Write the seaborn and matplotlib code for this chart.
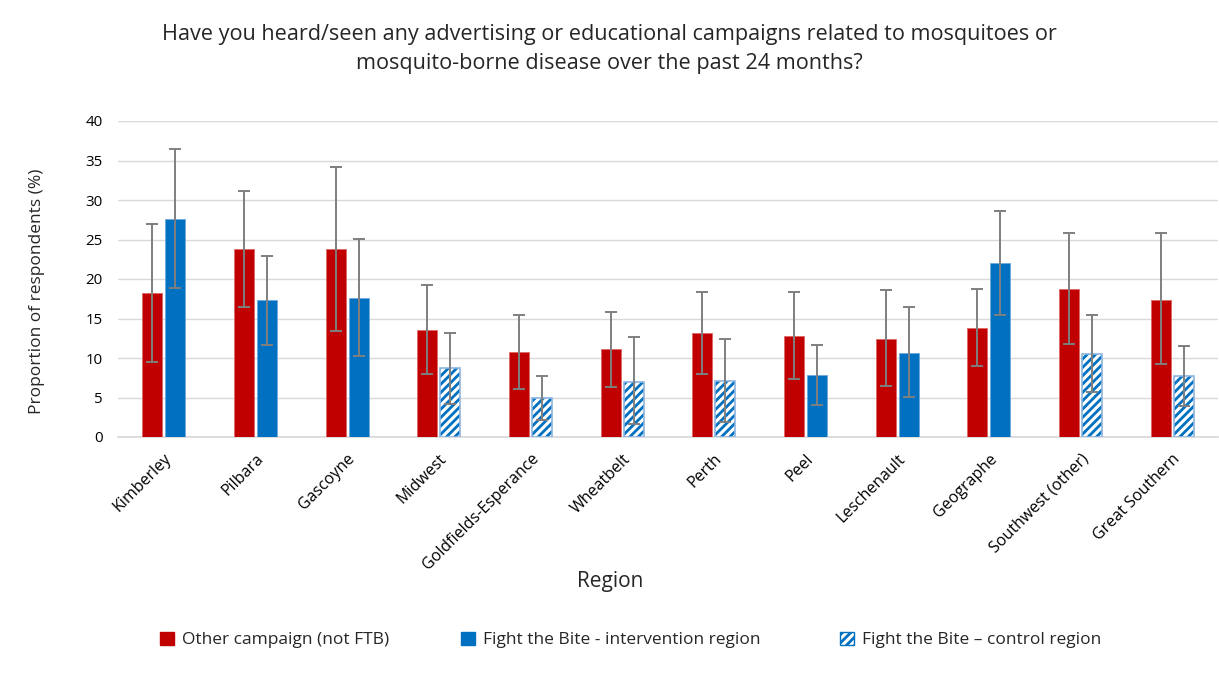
import numpy as np
import pandas as pd
import matplotlib
matplotlib.use("Agg")
import matplotlib.pyplot as plt
import seaborn as sns
from matplotlib.patches import Patch

regions = ["Kimberley", "Pilbara", "Gascoyne", "Midwest", "Goldfields-Esperance",
           "Wheatbelt", "Perth", "Peel", "Leschenault", "Geographe",
           "Southwest (other)", "Great Southern"]
other_vals = [18.2, 23.75, 23.75, 13.5, 10.8, 11.1, 13.2, 12.8, 12.45, 13.8, 18.7, 17.4]
other_lo = [9.5, 16.5, 13.4, 8.0, 6.1, 6.3, 8.0, 7.4, 6.5, 9.0, 11.8, 9.2]
other_hi = [26.9, 31.2, 34.2, 19.2, 15.5, 15.8, 18.4, 18.3, 18.6, 18.7, 25.8, 25.8]
ftb_vals = [27.6, 17.3, 17.55, 8.7, 4.9, 7.0, 7.1, 7.8, 10.6, 22.0, 10.5, 7.7]
ftb_lo = [18.8, 11.7, 10.2, 4.2, 2.15, 1.6, 1.9, 4.0, 5.1, 15.5, 5.7, 3.9]
ftb_hi = [36.5, 22.9, 25.1, 13.2, 7.7, 12.6, 12.4, 11.7, 16.4, 28.6, 15.4, 11.5]
ftb_control = [False, False, False, True, True, True, True, False, False, False, True, True]

series_names = ["Other campaign (not FTB)", "Fight the Bite - intervention region",
                "Fight the Bite \u2013 control region"]

RED = "#C00000"
BLUE = "#0070C0"

df = pd.DataFrame({
    "Region": regions * 2,
    "Value": other_vals + ftb_vals,
    "Series": ["Other"] * len(regions) + ["FTB"] * len(regions),
})

sns.set_theme(style="white")
plt.rcParams['font.family'] = ['Open Sans', 'DejaVu Sans']
plt.rcParams['hatch.linewidth'] = 2.0

fig = plt.figure(figsize=(12.19, 6.73), dpi=100)
ax = fig.add_axes([118 / 1219, 1 - 437 / 673, 1100 / 1219, 316 / 673])

sns.barplot(data=df, x="Region", y="Value", hue="Series", order=regions,
            hue_order=["Other", "FTB"], palette=[RED, BLUE], width=0.5, gap=0.13,
            saturation=1, errorbar=None, legend=False, ax=ax, zorder=3)

bars = ax.patches[:2 * len(regions)]
other_bars = bars[:len(regions)]
ftb_bars = bars[len(regions):]

for b in other_bars:
    b.set_edgecolor("#E06666")
    b.set_linewidth(0.6)
for b, ctrl in zip(ftb_bars, ftb_control):
    if ctrl:
        b.set_facecolor("white")
        b.set_hatch("////")
        b.set_edgecolor(BLUE)
        b.set_linewidth(0.0)
        x0, w, h = b.get_x(), b.get_width(), b.get_height()
        ax.add_patch(plt.Rectangle((x0, 0), w, h, fill=False, edgecolor="#8DB4E2",
                                   linewidth=1.2, zorder=4))
    else:
        b.set_edgecolor("#6FA8DC")
        b.set_linewidth(0.6)

def add_err(bar_list, vals, lo, hi):
    xs = [b.get_x() + b.get_width() / 2 for b in bar_list]
    v = np.array(vals)
    yerr = np.vstack([v - np.array(lo), np.array(hi) - v])
    ax.errorbar(xs, v, yerr=yerr, fmt="none", ecolor="#7F7F7F", elinewidth=1.4,
                capsize=4, capthick=1.4, zorder=5)

add_err(other_bars, other_vals, other_lo, other_hi)
add_err(ftb_bars, ftb_vals, ftb_lo, ftb_hi)

ax.set_ylim(0, 40)
ax.set_yticks(range(0, 41, 5))
ax.set_xlim(-0.5, len(regions) - 0.5)
ax.yaxis.grid(True, color="#D9D9D9", linewidth=1.0, zorder=0)
ax.set_axisbelow(True)
for s in ["top", "right", "left"]:
    ax.spines[s].set_visible(False)
ax.spines["bottom"].set_color("#D9D9D9")
ax.tick_params(axis="both", length=0, colors="#000000")
ax.tick_params(axis="y", labelsize=10.8, pad=11)
ax.set_xticks(range(len(regions)))
ax.set_xticklabels(regions, rotation=45, ha="right", rotation_mode="anchor")
ax.tick_params(axis="x", labelsize=11.5, pad=10)

ax.set_ylabel("Proportion of respondents (%)", fontsize=12.5)
ax.yaxis.set_label_coords((45 - 118) / 1100, (437 - 291) / 316)
ax.set_xlabel("Region", fontsize=15)
ax.xaxis.set_label_coords((610 - 118) / 1100, -(582 - 437) / 316)
ax.xaxis.label.set_va("center")

fig.text(0.5, 1 - 49 / 673,
         "Have you heard/seen any advertising or educational campaigns related to mosquitoes or\nmosquito-borne disease over the past 24 months?",
         ha="center", va="center", fontsize=15.6, linespacing=1.45)

handles = [Patch(facecolor=RED, edgecolor=RED),
           Patch(facecolor=BLUE, edgecolor=BLUE),
           Patch(facecolor="white", edgecolor=BLUE, hatch="////")]
legend_x = [160, 461, 840]
for h, name, lx in zip(handles, series_names, legend_x):
    fig.legend([h], [name], loc="center left",
               bbox_to_anchor=(lx / 1219, 1 - 640 / 673),
               frameon=False, fontsize=12.5, handlelength=0.8, handleheight=0.8,
               handletextpad=0.45, borderaxespad=0, borderpad=0)

fig.savefig("out.png", dpi=100)
